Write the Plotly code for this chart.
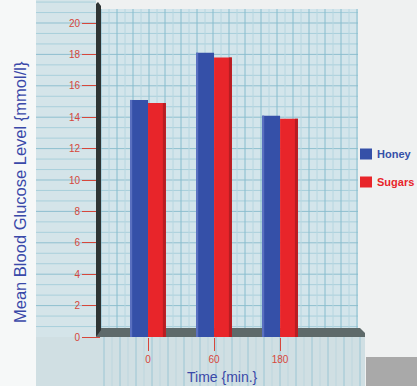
import plotly.graph_objects as go

# ---- data ----
times = ["0", "60", "180"]
honey = [15.1, 18.1, 14.1]
sugars = [14.9, 17.8, 13.9]
y_ticks = [0, 2, 4, 6, 8, 10, 12, 14, 16, 18, 20]
series_names = ["Honey", "Sugars"]
series_colors = ["#3550a8", "#e8252a"]

# ---- geometry (pixels) ----
W, H = 417, 386
L, R, T, B = 101, 59, 9, 49
pw = W - L - R
ph = H - T - B
PX_PER_UNIT = 15.7


def px(x):
    return (x - L) / pw


def py(y):
    return (H - B - y) / ph


xpos = list(range(len(times)))

fig = go.Figure()
fig.add_trace(go.Bar(x=xpos, y=honey, width=0.27, offset=-0.27,
                     marker=dict(color=series_colors[0], line=dict(width=0)),
                     name=series_names[0]))
fig.add_trace(go.Bar(x=xpos, y=sugars, width=0.27, offset=0.0,
                     marker=dict(color=series_colors[1], line=dict(width=0)),
                     name=series_names[1]))
# shaded side faces (3D look)
fig.add_trace(go.Bar(x=xpos, y=honey, width=0.03, offset=-0.27,
                     marker=dict(color="#5a70c0", line=dict(width=0)), hoverinfo="skip"))
fig.add_trace(go.Bar(x=xpos, y=sugars, width=0.045, offset=0.225,
                     marker=dict(color="#b81d22", line=dict(width=0)), hoverinfo="skip"))

shapes = []


def rect(x0, y0, x1, y1, color, layer="below"):
    shapes.append(dict(type="rect", xref="paper", yref="paper",
                       x0=px(x0), x1=px(x1), y0=py(y0), y1=py(y1),
                       fillcolor=color, line=dict(width=0), layer=layer))


def line(x0, y0, x1, y1, color, w=1, layer="below"):
    shapes.append(dict(type="line", xref="paper", yref="paper",
                       x0=px(x0), x1=px(x1), y0=py(y0), y1=py(y1),
                       line=dict(color=color, width=w), layer=layer))


# background panels
rect(0, 0, 36, H, "#f6f8f8")
rect(36, 0, 96, 337, "#d4e4e9")           # left wall
rect(36, 337, 365, H, "#d0dfe3")          # front floor region
rect(101, 9, 358, 329, "#d3e5eb")         # plot area
rect(366, 357, W, H, "#a9a9a9")           # grey block

# horizontal grid lines (every 2/3 unit)
step = PX_PER_UNIT * 2 / 3
k = 1
while True:
    yy = 337 - k * step
    if yy < 2:
        break
    c = "#8fbfcf" if k % 3 == 0 else "#a9cfdb"
    line(36, yy, 96, yy, c)
    if yy > 9 and yy < 329:
        line(101, yy, 358, yy, c)
    k += 1

# vertical grid lines in plot area and front floor
x = 101
i = 0
while x <= 358:
    line(x, 9, x, 329, "#86bccd" if i % 2 == 0 else "#b6d6e0")
    x += 8
    i += 1
x = 104
i = 0
while x <= 364:
    line(x, 337, x, H, "#9cc6d4" if i % 2 == 0 else "#bdd6de")
    x += 8
    i += 1

# floor band with slanted right edge
shapes.append(dict(type="path", xref="paper", yref="paper",
                   path=f"M {px(96)},{py(337)} L {px(365)},{py(337)} L {px(365)},{py(333)} "
                        f"L {px(360)},{py(328)} L {px(100)},{py(328)} Z",
                   fillcolor="#5e6a6a", line=dict(width=0), layer="below"))
# dark left wall edge
shapes.append(dict(type="path", xref="paper", yref="paper",
                   path=f"M {px(96)},{py(337)} L {px(96)},{py(4)} L {px(98)},{py(2)} "
                        f"L {px(101)},{py(6)} L {px(101)},{py(330)} Z",
                   fillcolor="#2e3434", line=dict(width=0), layer="above"))

# legend swatches
legend_y = [154, 182]
for name, col, ly in zip(series_names, series_colors, legend_y):
    rect(360, ly - 5.5, 372, ly + 5.5, col, layer="above")

annotations = [
    dict(text="Mean Blood Glucose Level {mmol/l}", xref="paper", yref="paper",
         x=px(20), y=py(192), xanchor="center", yanchor="middle",
         textangle=-90, showarrow=False,
         font=dict(family="Liberation Sans, Arial", size=16.5, color="#3a49a9")),
    dict(text="Time {min.}", xref="paper", yref="paper",
         x=px(222), y=py(377), xanchor="center", yanchor="middle", showarrow=False,
         font=dict(family="Liberation Sans, Arial", size=14, color="#3a49a9")),
]
for name, col, ly in zip(series_names, series_colors, legend_y):
    annotations.append(dict(text=f"<b>{name}</b>", xref="paper", yref="paper",
                            x=px(375), y=py(ly), xanchor="left", yanchor="middle",
                            showarrow=False,
                            font=dict(family="Liberation Sans, Arial", size=11, color=col)))

tick_red = "#d6473b"
fig.update_layout(
    width=W, height=H,
    margin=dict(l=L, r=R, t=T, b=B, pad=0),
    paper_bgcolor="#eff1f1",
    plot_bgcolor="rgba(0,0,0,0)",
    showlegend=False,
    barmode="overlay",
    shapes=shapes,
    annotations=annotations,
    xaxis=dict(range=[-0.712, 3.18], tickmode="array", tickvals=xpos, ticktext=times,
               showgrid=False, zeroline=False, showline=False,
               ticks="outside", ticklen=13, tickcolor=tick_red, tickwidth=1,
               tickfont=dict(family="Liberation Sans, Arial", size=10, color=tick_red)),
    yaxis=dict(range=[0, ph / PX_PER_UNIT], tickmode="array", tickvals=y_ticks,
               showgrid=False, zeroline=False, showline=False,
               ticks="outside", ticklen=18, tickcolor=tick_red, tickwidth=1,
               tickfont=dict(family="Liberation Sans, Arial", size=10, color=tick_red)),
)

fig.write_html("out.html")
